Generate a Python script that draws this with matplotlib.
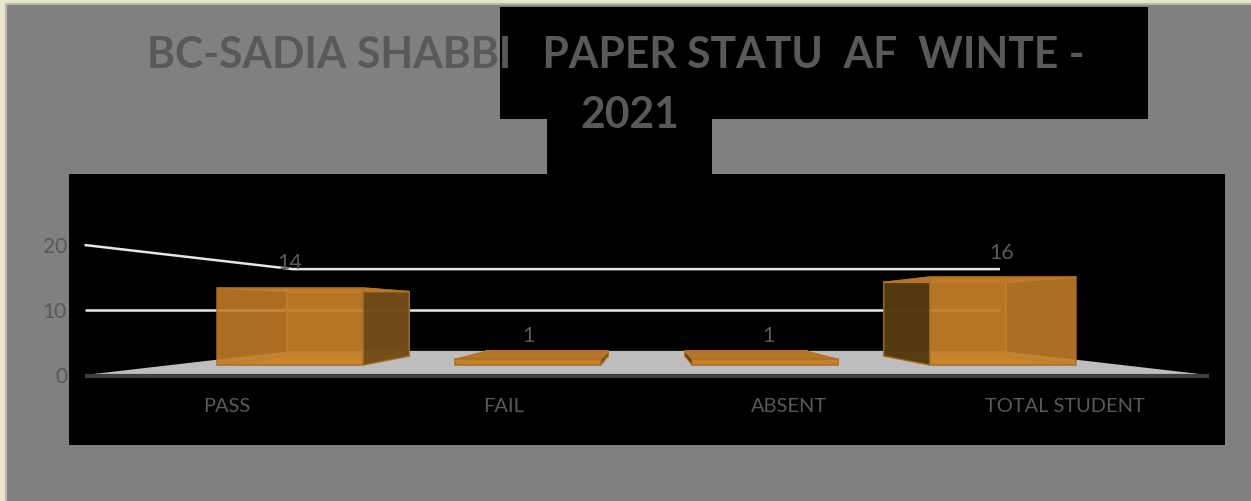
import matplotlib
matplotlib.use('agg')
import matplotlib.pyplot as plt
from matplotlib.patches import Polygon, Rectangle

plt.rcParams['font.family'] = ['Lato', 'DejaVu Sans']

categories = ['PASS', 'FAIL', 'ABSENT', 'TOTAL STUDENT']
values = [14, 1, 1, 16]
yticks = [0, 10, 20]
title_line1 = 'BC-SADIA SHABBI   PAPER STATU  AF  WINTE -'
title_line2 = '2021'

W, H = 1251, 502
CX = 646.5       # centre of the floor, px
HORIZON = 310.0  # where y=10 sits, every depth
UNIT_X = 281.0   # px per category at the front
UNIT_Y = 6.5     # px per value at the front
K = 0.59         # perspective strength
BOX_Z = (0.31, 0.70)
HALF_BAR = 0.307
TEXT = '#595959'


def proj(cat, val, z):
    # cat is in category units (0..4), val in chart units, z 0=front 1=back
    s = 1.0 / (1.0 + K * z)
    return (CX + (cat - 2) * UNIT_X * s, HORIZON + (10 - val) * UNIT_Y * s)


fig = plt.figure(figsize=(W / 100, H / 100), dpi=100, facecolor='#E8E6CC')
ax = fig.add_axes([0, 0, 1, 1])
ax.set_xlim(0, W)
ax.set_ylim(H - 1, -1)
ax.axis('off')

# page and the black blocks behind the chart
ax.add_patch(Rectangle((6, 4), W + 10, H + 10, fc='#808080', ec='#B8B8B4', lw=1.5))
for (x, y, w, h) in [(500, 7, 648, 112), (547, 119, 165, 55), (69, 174, 1156, 271)]:
    ax.add_patch(Rectangle((x, y), w, h, fc='black', ec='none'))

# floor
ax.add_patch(Polygon([proj(0, 0, 0), proj(4, 0, 0), proj(4, 0, 1), proj(0, 0, 1)],
                     fc='#BDBDBD', ec='none', zorder=2))
ax.plot([proj(0, 0, 0)[0], proj(4, 0, 0)[0]], [proj(0, 0, 0)[1] + 1] * 2,
        color='#3F3F3F', lw=3, solid_capstyle='butt', zorder=3)

# gridlines on the left and back walls
for t in yticks[1:]:
    pts = [proj(0, t, 0), proj(0, t, 1), proj(4, t, 1)]
    ax.plot([p[0] for p in pts], [p[1] for p in pts], color='#E6E6E6', lw=1.8,
            solid_joinstyle='round', solid_capstyle='butt', zorder=3)

# boxes, see-through like the Excel 3D style
for i, v in enumerate(values):
    a, b = i + 0.5 - HALF_BAR, i + 0.5 + HALF_BAR
    z0, z1 = BOX_Z
    back = [proj(a, 0, z1), proj(b, 0, z1), proj(b, v, z1), proj(a, v, z1)]
    floor = [proj(a, 0, z0), proj(b, 0, z0), proj(b, 0, z1), proj(a, 0, z1)]
    top = [proj(a, v, z0), proj(b, v, z0), proj(b, v, z1), proj(a, v, z1)]
    left = [proj(a, 0, z0), proj(a, v, z0), proj(a, v, z1), proj(a, 0, z1)]
    right = [proj(b, 0, z0), proj(b, v, z0), proj(b, v, z1), proj(b, 0, z1)]
    front = [proj(a, 0, z0), proj(b, 0, z0), proj(b, v, z0), proj(a, v, z0)]
    ax.add_patch(Polygon(back, fc='#C47E28', ec='#CC8A34', lw=1.5, alpha=0.75, zorder=4))
    ax.add_patch(Polygon(floor, fc='#D8922F', ec='#C8832C', lw=1, zorder=4))
    # the outer side wall is shaded dark, the inner one shows through the front
    if i < 2:
        ax.add_patch(Polygon(right, fc='#6E4A18', ec='#A06A22', lw=1, alpha=0.92, zorder=5))
        ax.add_patch(Polygon(left, fc='#B87824', ec='#C8832C', lw=1, alpha=0.6, zorder=4))
    else:
        ax.add_patch(Polygon(left, fc='#4E3510', ec='#A06A22', lw=1, alpha=0.92, zorder=5))
        ax.add_patch(Polygon(right, fc='#B87824', ec='#C8832C', lw=1, alpha=0.6, zorder=4))
    ax.add_patch(Polygon(top, fc='#B5762A', ec='#B5762A', lw=1, zorder=5))
    ax.add_patch(Polygon(front, fc='#C47E28', ec='#A86C20', lw=1.2, alpha=0.72, zorder=6))

# text
ax.text(147, 54, title_line1, fontsize=30.7, fontweight='bold', color=TEXT,
        ha='left', va='center', zorder=8)
ax.text(630, 114, title_line2, fontsize=30.7, fontweight='bold', color=TEXT,
        ha='center', va='center', zorder=8)
for t in yticks:
    ax.text(67, proj(0, t, 0)[1] + 1, str(t), fontsize=15, color=TEXT, ha='right',
            va='center', zorder=8)

cat_x = [227, 504, 789, 1065]
for name, x in zip(categories, cat_x):
    ax.text(x, 406, name, fontsize=14.4, color=TEXT, ha='center', va='center', zorder=8)

lab_x = [290, 528, 768, 1002]
lab_y = [262, 335, 335, 252]
for v, x, y in zip(values, lab_x, lab_y):
    ax.text(x, y, str(v), fontsize=15.5, color=TEXT, ha='center', va='center', zorder=8)

fig.savefig('out.png', dpi=100, facecolor=fig.get_facecolor())
plt.close()
